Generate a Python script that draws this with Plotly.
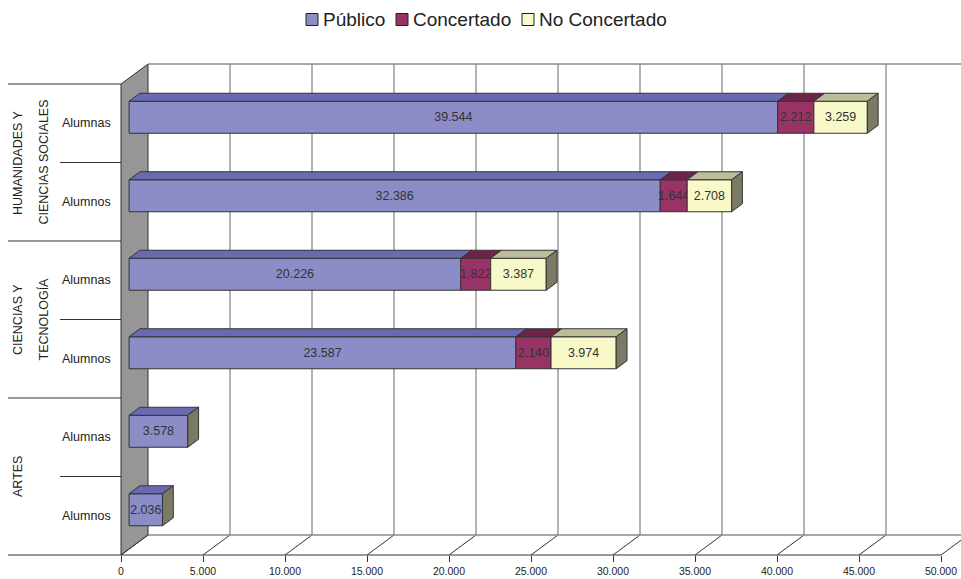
import plotly.graph_objects as go

# ---- data -------------------------------------------------------------
group_lines = [["HUMANIDADES Y", "CIENCIAS SOCIALES"], ["CIENCIAS Y", "TECNOLOGÍA"], ["ARTES"]]
row_labels = ["Alumnas", "Alumnos", "Alumnas", "Alumnos", "Alumnas", "Alumnos"]  # top to bottom
publico = [39544, 32386, 20226, 23587, 3578, 2036]
concertado = [2212, 1644, 1822, 2140, None, None]
no_concertado = [3259, 2708, 3387, 3974, None, None]
series_names = ["Público", "Concertado", "No Concertado"]
tick_values = [0, 5000, 10000, 15000, 20000, 25000, 30000, 35000, 40000, 45000, 50000]
tick_labels = ["0", "5.000", "10.000", "15.000", "20.000", "25.000",
               "30.000", "35.000", "40.000", "45.000", "50.000"]

# ---- styling ----------------------------------------------------------
front_colors = ["#8c8cc6", "#993366", "#f8f8c8"]
top_colors = ["#6a6ab2", "#6e2448", "#bdbd9c"]
side_color = "#7a7a66"
edge = "#333333"
grid = "#8a8a8a"
text_color = "#222222"
FONT = "Arial, Liberation Sans, sans-serif"

W, H = 961, 579
X0_PX, X_END_PX = 121, 941          # front floor: 0 and axis maximum
FLOOR_PX, TOP_PX = 555, 84          # front floor line and top of category band
AXIS_MAX = tick_values[-1]
SX = (X_END_PX - X0_PX) / AXIS_MAX  # px per unit
SY = (FLOOR_PX - TOP_PX) / 6        # px per category slot

DEPTH_X = 27 / SX                   # oblique depth of the walls, in axis units
DEPTH_Y = 20 / SY
BAR_FRONT = 0.30                    # depth fraction of bar front face
BAR_BACK = 0.70                     # depth fraction of bar back face
BAR_H = 32 / SY


def px_x(p):
    return (p - X0_PX) / SX


x_range = [px_x(0), px_x(W)]
y_range = [(FLOOR_PX - H) / SY, FLOOR_PX / SY]

n = len(publico)
row_y = [n - 0.5 - i for i in range(n)]
front_y = [y + BAR_FRONT * DEPTH_Y for y in row_y]
front_dx = BAR_FRONT * DEPTH_X
dd_x = (BAR_BACK - BAR_FRONT) * DEPTH_X
dd_y = (BAR_BACK - BAR_FRONT) * DEPTH_Y


def fmt(v):
    return f"{v:,}".replace(",", ".")


fig = go.Figure()

# ---- walls, floor and gridlines ---------------------------------------
shapes = []
wall_top = 6
shapes.append(dict(type="path", layer="below",
                   path=f"M0,0 L{DEPTH_X},{DEPTH_Y} L{DEPTH_X},{wall_top + DEPTH_Y} L0,{wall_top} Z",
                   fillcolor="#969696", line=dict(color=edge, width=1)))
for v in tick_values:
    shapes.append(dict(type="line", layer="below", x0=v, y0=0, x1=v + DEPTH_X, y1=DEPTH_Y,
                       line=dict(color=edge, width=1)))
    if v > 0:
        shapes.append(dict(type="line", layer="below", x0=v + DEPTH_X, y0=DEPTH_Y,
                           x1=v + DEPTH_X, y1=wall_top + DEPTH_Y, line=dict(color=grid, width=1.3)))
shapes.append(dict(type="line", layer="below", x0=DEPTH_X, y0=DEPTH_Y, x1=AXIS_MAX + DEPTH_X, y1=DEPTH_Y,
                   line=dict(color=grid, width=1.3)))
shapes.append(dict(type="line", layer="below", x0=DEPTH_X, y0=wall_top + DEPTH_Y,
                   x1=AXIS_MAX + DEPTH_X, y1=wall_top + DEPTH_Y, line=dict(color=grid, width=1.3)))
shapes.append(dict(type="line", layer="below", x0=px_x(8), y0=0, x1=AXIS_MAX, y1=0,
                   line=dict(color=edge, width=1)))
# category separators on the left
for yb in [2, 4, 6]:
    shapes.append(dict(type="line", layer="below", x0=px_x(8), y0=yb, x1=0, y1=yb,
                       line=dict(color=edge, width=1)))
for yb in [1, 3, 5]:
    shapes.append(dict(type="line", layer="below", x0=px_x(60), y0=yb, x1=0, y1=yb,
                       line=dict(color=edge, width=1)))

# ---- bars (front faces) -----------------------------------------------
all_series = [publico, concertado, no_concertado]
bases = [[front_dx] * n]
for s in all_series[:-1]:
    prev = bases[-1]
    bases.append([b + (v or 0) for b, v in zip(prev, s)])

for name, vals, base, col in zip(series_names, all_series, bases, front_colors):
    fig.add_trace(go.Bar(
        name=name, orientation="h", y=front_y, x=vals, base=base, width=BAR_H,
        marker=dict(color=col, line=dict(color=edge, width=1)),
        text=[fmt(v) if v else "" for v in vals], textposition="inside",
        insidetextanchor="middle", textangle=0,
        textfont=dict(family=FONT, size=12.5, color="#333333"),
        hoverinfo="skip", showlegend=False,
    ))

# ---- top faces ---------------------------------------------------------
for vals, base, col in zip(all_series, bases, top_colors):
    xs, ys = [], []
    for v, b, yf in zip(vals, base, front_y):
        if not v:
            continue
        yt = yf + BAR_H / 2
        xs += [b, b + v, b + v + dd_x, b + dd_x, b, None]
        ys += [yt, yt, yt + dd_y, yt + dd_y, yt, None]
    fig.add_trace(go.Scatter(x=xs, y=ys, mode="lines", fill="toself", fillcolor=col,
                             line=dict(color=edge, width=1), showlegend=False, hoverinfo="skip"))

# ---- right side faces (end of each stacked bar) ------------------------
xs, ys = [], []
for i in range(n):
    end = front_dx + sum((s[i] or 0) for s in all_series)
    yb = front_y[i] - BAR_H / 2
    yt = front_y[i] + BAR_H / 2
    xs += [end, end, end + dd_x, end + dd_x, end, None]
    ys += [yb, yt, yt + dd_y, yb + dd_y, yb, None]
fig.add_trace(go.Scatter(x=xs, y=ys, mode="lines", fill="toself", fillcolor=side_color,
                         line=dict(color=edge, width=1), showlegend=False, hoverinfo="skip"))

# ---- category labels ---------------------------------------------------
ann = []
for label, y in zip(row_labels, row_y):
    ann.append(dict(x=px_x(86), y=y, text=label, showarrow=False, xanchor="center", yanchor="middle",
                    font=dict(family=FONT, size=12.5, color=text_color)))
for gi, lines in enumerate(group_lines):
    yc = 5 - 2 * gi
    for li, line in enumerate(lines):
        ann.append(dict(x=px_x(17.5 + 25.5 * li), y=yc, text=line, showarrow=False, textangle=-90,
                        xanchor="center", yanchor="middle",
                        font=dict(family=FONT, size=12.5, color=text_color)))

# ---- legend (compact, centred row at the top) --------------------------
legend_x_px = [306, 396, 522]       # left edge of each swatch
legend_y_px = 19.5                  # vertical centre of the row
swatch = 12
for name, col, lx in zip(series_names, front_colors, legend_x_px):
    shapes.append(dict(type="rect", xref="paper", yref="paper",
                       x0=lx / W, x1=(lx + swatch) / W,
                       y0=1 - (legend_y_px + swatch / 2) / H, y1=1 - (legend_y_px - swatch / 2) / H,
                       fillcolor=col, line=dict(color="#222222", width=1)))
    ann.append(dict(xref="paper", yref="paper", x=(lx + swatch + 3) / W, y=1 - legend_y_px / H,
                    text=name, showarrow=False, xanchor="left", yanchor="middle",
                    font=dict(family=FONT, size=19, color=text_color)))

fig.update_layout(
    width=W, height=H,
    margin=dict(l=0, r=0, t=0, b=0),
    paper_bgcolor="white", plot_bgcolor="white",
    barmode="overlay",
    shapes=shapes, annotations=ann,
    uniformtext=dict(minsize=12.5, mode="show"),
    showlegend=False,
    xaxis=dict(range=x_range, tickvals=tick_values, ticktext=tick_labels, ticks="outside",
               ticklen=6, tickcolor=edge, showgrid=False, zeroline=False, showline=False,
               anchor="free", position=(H - FLOOR_PX) / H,
               tickfont=dict(family=FONT, size=10.5, color=text_color), automargin=False, fixedrange=True),
    yaxis=dict(range=y_range, visible=False, automargin=False, fixedrange=True),
)

fig.write_html("out.html")
